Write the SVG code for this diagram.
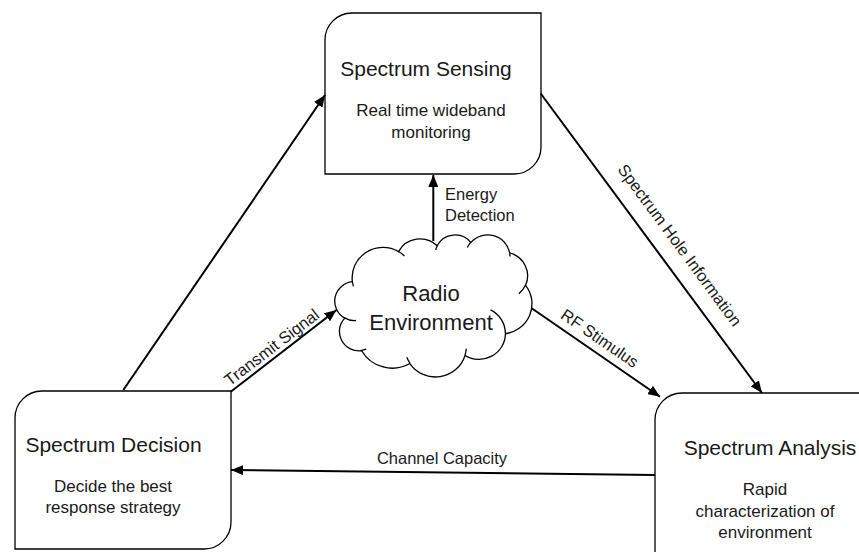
<svg xmlns="http://www.w3.org/2000/svg" width="859" height="552" viewBox="0 0 859 552">
<style>
.box{fill:#fff;stroke:#000;stroke-width:1.3}
.title{font-family:"Liberation Sans",Arial,sans-serif;font-size:21px;fill:#1a1a1a;text-anchor:middle}
.sub{font-family:"Liberation Sans",Arial,sans-serif;font-size:17px;fill:#1a1a1a;text-anchor:middle}
.lbl{font-family:"Liberation Sans",Arial,sans-serif;font-size:16.5px;fill:#1a1a1a}
.cloudtxt{font-family:"Liberation Sans",Arial,sans-serif;font-size:22px;fill:#1a1a1a;text-anchor:middle}
.conn{fill:none;stroke:#000;stroke-width:2;marker-end:url(#ah)}
</style>
<defs>
<marker id="ah" markerUnits="userSpaceOnUse" markerWidth="12" markerHeight="10" refX="12" refY="5" orient="auto">
<path d="M0,0 L12,5 L0,10 z" fill="#000"/>
</marker>
</defs>
<rect width="859" height="552" fill="#fff"/>

<g id="sensing">
<path class="box" d="M325,40 A27,27 0 0 1 352,13 H541 V147 A27,27 0 0 1 514,174 H325 Z"/>
<text class="title" x="426" y="76">Spectrum Sensing</text>
<text class="sub" x="431" y="116">Real time wideband</text>
<text class="sub" x="431" y="138">monitoring</text>
</g>

<g id="decision">
<path class="box" d="M15,418 A27,27 0 0 1 42,391 H231 V522 A27,27 0 0 1 204,549 H15 Z"/>
<text class="title" x="113.5" y="452">Spectrum Decision</text>
<text class="sub" x="113" y="492">Decide the best</text>
<text class="sub" x="113" y="513">response strategy</text>
</g>

<g id="analysis">
<path class="box" d="M655,420 A27,27 0 0 1 682,393 H871 V530 A27,27 0 0 1 844,557 H655 Z"/>
<text class="title" x="770" y="455">Spectrum Analysis</text>
<text class="sub" x="765" y="495">Rapid</text>
<text class="sub" x="765" y="517">characterization of</text>
<text class="sub" x="765" y="538">environment</text>
</g>

<g id="radio">
<path fill="#fff" stroke="#000" stroke-width="1.3" d="M352.41,281.72 A30.84,30.20 0 0 1 398.57,251.60 A24.36,23.88 0 0 1 437.16,245.78 A19.93,19.54 0 0 1 470.86,242.65 A22.18,21.67 0 0 1 509.61,252.83 A24.36,23.90 0 0 1 525.60,285.31 A30.94,30.30 0 0 1 505.43,333.74 A26.42,25.85 0 0 1 465.02,355.46 A30.84,30.28 0 0 1 409.87,363.52 A35.26,34.64 0 0 1 361.65,350.75 A19.91,19.45 0 0 1 344.79,318.15 A19.84,19.54 0 0 1 352.41,281.72 Z"/>
<path fill="none" stroke="#000" stroke-width="1.3" d="M356.03,320.52 A19.84,19.54 0 0 1 344.47,317.90 M366.24,349.18 A19.91,19.45 0 0 1 361.17,350.43 M409.86,362.95 A30.84,30.28 0 0 1 406.80,357.23 M466.25,348.69 A30.84,30.28 0 0 1 465.03,354.97 M490.47,309.93 A26.42,25.85 0 0 1 505.32,333.37 M525.49,284.95 A24.36,23.90 0 0 1 518.88,293.74 M509.63,252.33 A22.18,21.67 0 0 1 509.98,256.48 M467.40,247.49 A22.18,21.67 0 0 1 470.79,242.18 M435.72,250.01 A19.93,19.54 0 0 1 437.36,245.44 M398.54,251.56 A30.84,30.20 0 0 1 404.46,255.99 M353.45,286.38 A30.84,30.20 0 0 1 352.41,281.72"/>
<text class="cloudtxt" x="431" y="301">Radio</text>
<text class="cloudtxt" x="431" y="330">Environment</text>
</g>

<g id="connectors">
<path class="conn" d="M123.3,390 L325,95"/>
<path class="conn" d="M540.7,93.5 L762,393"/>
<path class="conn" d="M433.3,241 L433.3,175"/>
<path class="conn" d="M531.7,308.3 L660,396.7"/>
<path class="conn" d="M230.7,391.7 L336.5,310"/>
<path class="conn" d="M655,475 L231,470"/>
<text class="lbl" x="445" y="200" font-size="14.5">Energy</text>
<text class="lbl" x="445" y="221" font-size="14.5">Detection</text>
<text class="lbl" x="442" y="464" text-anchor="middle">Channel Capacity</text>
<text class="lbl" text-anchor="middle" transform="translate(271.5,347) rotate(-37.4)" y="6">Transmit Signal</text>
<text class="lbl" text-anchor="middle" transform="translate(600,338) rotate(34.6)" y="6">RF Stimulus</text>
<text class="lbl" text-anchor="middle" transform="translate(680,245) rotate(53.6)" y="6">Spectrum Hole Information</text>
</g>
</svg>
